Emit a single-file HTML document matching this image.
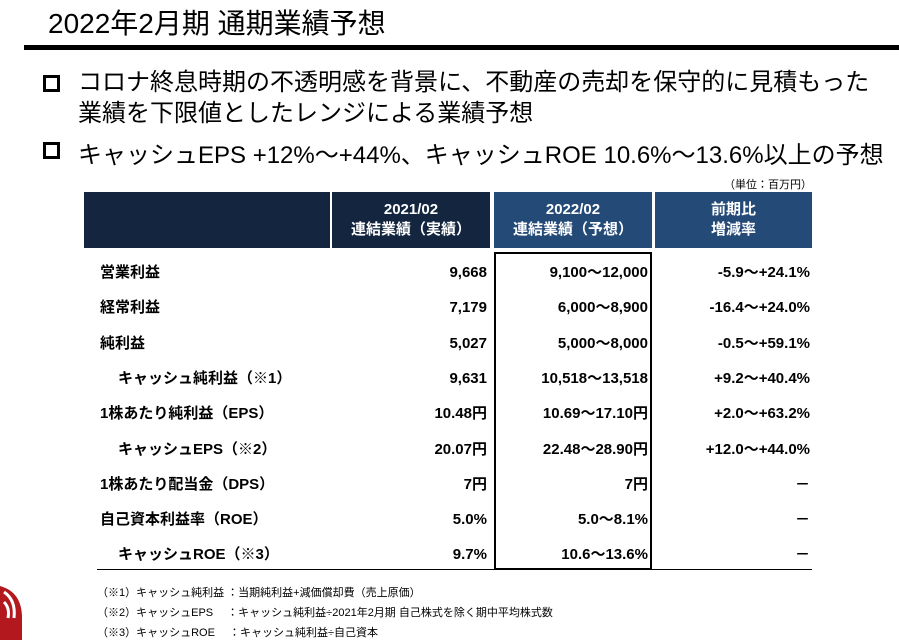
<!DOCTYPE html>
<html><head><meta charset="utf-8"><style>
body{margin:0;width:899px;height:640px;background:#fff;position:relative;overflow:hidden;font-family:"Liberation Sans","Noto Sans CJK JP",sans-serif;color:#000}
.a{position:absolute;white-space:nowrap}
.b{font-weight:bold;font-size:15px;line-height:20px;height:20px}
.h{position:absolute;color:#fff;font-weight:bold;font-size:15px;text-align:center;line-height:20px;display:flex;align-items:center;justify-content:center}
.sq{position:absolute;width:11px;height:11px;border:3px solid #000}
.fn{font-size:11px}
</style></head><body>
<div class="a" style="left:48px;top:2px;font-size:28px">2022年2月期 通期業績予想</div>
<div class="a" style="left:24px;top:45px;width:875px;height:5px;background:#000"></div>
<div class="sq" style="left:43px;top:75px"></div>
<div class="a" style="left:78px;top:67px;font-size:24px;line-height:31px">コロナ終息時期の不透明感を背景に、不動産の売却を保守的に見積もった<br>業績を下限値としたレンジによる業績予想</div>
<div class="sq" style="left:43px;top:142px"></div>
<div class="a" style="left:78px;top:135px;font-size:24px">キャッシュEPS +12%～+44%、キャッシュROE 10.6%～13.6%以上の予想</div>
<div class="a" style="left:724px;top:176px;font-size:11px">（単位：百万円）</div>
<div class="h" style="left:84px;top:192px;width:246px;height:56px;background:#13253f"></div>
<div class="h" style="left:332px;top:192px;width:158px;height:56px;background:#13253f">2021/02<br>連結業績（実績）</div>
<div class="h" style="left:494px;top:192px;width:158px;height:56px;background:#244a78">2022/02<br>連結業績（予想）</div>
<div class="h" style="left:655px;top:192px;width:157px;height:56px;background:#244a78">前期比<br>増減率</div>
<div class="a" style="left:494px;top:252px;width:154px;height:314px;border:2px solid #000"></div>
<div class="a" style="left:97px;top:569px;width:715px;height:1px;background:#000"></div>
<div id="rows"></div>
<div class="a fn" style="left:97px;top:584px">（※1）キャッシュ純利益 ：当期純利益+減価償却費（売上原価）</div>
<div class="a fn" style="left:97px;top:604px">（※2）キャッシュEPS　  ：キャッシュ純利益÷2021年2月期 自己株式を除く期中平均株式数</div>
<div class="a fn" style="left:97px;top:624px">（※3）キャッシュROE　 ：キャッシュ純利益÷自己資本</div>
<svg class="a" style="left:0;top:578px" width="26" height="62"><path d="M0 8 Q22 14 22 40 L22 62 L0 62Z" fill="#b3181f"/><path d="M4 14 Q16 22 14 40" stroke="#fff" stroke-width="3" fill="none"/><path d="M4 24 Q10 30 8 40" stroke="#fff" stroke-width="3" fill="none"/></svg>
<script>
const labels=["営業利益","経常利益","純利益","キャッシュ純利益（※1）","1株あたり純利益（EPS）","キャッシュEPS（※2）","1株あたり配当金（DPS）","自己資本利益率（ROE）","キャッシュROE（※3）"];
const indent=[0,0,0,1,0,1,0,0,1];
const actual=["9,668","7,179","5,027","9,631","10.48円","20.07円","7円","5.0%","9.7%"];
const forecast=["9,100～12,000","6,000～8,900","5,000～8,000","10,518～13,518","10.69～17.10円","22.48～28.90円","7円","5.0～8.1%","10.6～13.6%"];
const change=["-5.9～+24.1%","-16.4～+24.0%","-0.5～+59.1%","+9.2～+40.4%","+2.0～+63.2%","+12.0～+44.0%","－","－","－"];
const c=document.getElementById('rows');
labels.forEach((l,i)=>{
 const y=263+i*35.3;
 const mk=(t,style,name)=>{const d=document.createElement('div');d.className='a b';d.style.cssText=style+';top:'+y+'px';d.textContent=t;
 
 
 c.appendChild(d);};
 mk(l,'left:'+(indent[i]?118:100)+'px','row-label');
 mk(actual[i],'right:'+(899-487)+'px','actual-value');
 mk(forecast[i],'right:'+(899-648)+'px','forecast-value');
 mk(change[i],'right:'+(899-810)+'px','change-value');
});
</script>
</body></html>
